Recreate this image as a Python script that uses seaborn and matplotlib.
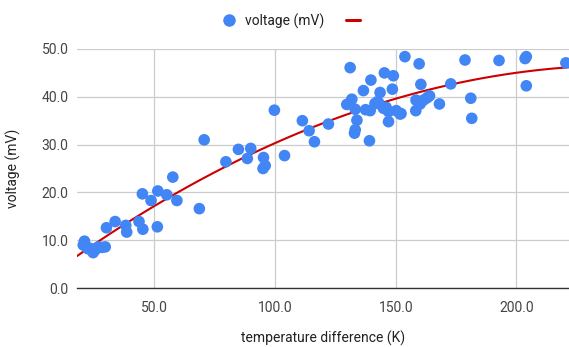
import matplotlib
matplotlib.use("Agg")
import matplotlib.pyplot as plt
from matplotlib.lines import Line2D
import seaborn as sns
import pandas as pd

# values
temp_diff = [21.0, 20.5, 21.8, 22.5, 23.3, 24.6, 25.5, 26.8, 28.2, 29.6,
             30.1, 33.7, 38.1, 38.5, 43.6, 45.2, 51.2,
             45.0, 51.4, 48.6, 55.1, 59.3, 57.6, 68.6,
             79.6, 70.6, 84.8, 89.9, 88.5, 95.2, 95.0, 95.9, 99.7, 103.9,
             111.3, 114.1, 116.3, 122.1,
             131.1, 129.7, 131.8, 133.2, 133.9, 133.2, 132.9, 139.1, 136.6, 139.7,
             139.4, 141.4, 143.5, 145.3, 149.0, 148.6, 143.1, 144.9, 147.0, 147.0,
             150.2, 151.8, 153.8, 142.5, 146.0, 137.5,
             159.7, 160.4, 172.8, 178.7, 192.8, 203.6, 204.1, 204.1, 220.5, 181.1,
             181.5, 168.1, 152.2, 158.4, 158.3, 160.1, 161.5, 164.0, 163.0]
voltage = [9.8, 9.0, 8.6, 8.2, 8.3, 7.4, 8.0, 8.6, 8.5, 8.6,
           12.6, 13.9, 13.1, 11.7, 13.9, 12.3, 12.8,
           19.7, 20.3, 18.3, 19.5, 18.3, 23.2, 16.6,
           26.4, 31.0, 29.0, 29.2, 27.1, 27.3, 25.0, 25.6, 37.2, 27.7,
           35.0, 32.9, 30.6, 34.3,
           46.1, 38.4, 39.5, 37.4, 35.1, 33.1, 32.4, 30.8, 41.3, 43.5,
           37.1, 38.6, 40.9, 45.0, 44.4, 41.6, 38.6, 37.6, 36.9, 34.8,
           37.1, 36.4, 48.4, 39.0, 37.8, 37.3,
           46.9, 42.6, 42.7, 47.7, 47.6, 48.0, 48.4, 42.3, 47.1, 39.7,
           35.5, 38.5, 36.5, 39.3, 37.1, 38.5, 39.3, 40.2, 39.8]
x_ticks = [50, 100, 150, 200]
y_ticks = [0, 10, 20, 30, 40, 50]

df = pd.DataFrame({"temp": temp_diff, "volt": voltage})

sns.set_theme(style="white")
plt.rcParams["font.family"] = ["Roboto", "DejaVu Sans"]

blue = "#4285f4"
red = "#cc0000"
fs = 10

fig = plt.figure(figsize=(5.69, 3.47), dpi=100)
ax = fig.add_axes([77 / 569, 1 - 288 / 347, 1 - 77 / 569, 239 / 347])

ax.set_xlim(17.9, 221.8)
ax.set_ylim(0, 50)

#polynomial trendline (order 2) fitted to the points
sns.regplot(data=df, x="temp", y="volt", order=2, scatter=False, ci=None,
            truncate=False, color=red, line_kws={"linewidth": 1.5}, ax=ax)
sns.scatterplot(data=df, x="temp", y="volt", color=blue, s=70,
                edgecolor="none", ax=ax, zorder=3, clip_on=True)

ax.set_xlim(17.9, 221.8)
ax.set_ylim(0, 50)
ax.set_xticks(x_ticks)
ax.set_xticklabels([f"{v:.1f}" for v in x_ticks])
ax.set_yticks(y_ticks)
ax.set_yticklabels([f"{v:.1f}" for v in y_ticks])
ax.tick_params(axis="both", length=0, labelsize=fs, colors="#444444")
ax.tick_params(axis="x", pad=9)
ax.tick_params(axis="y", pad=6)

ax.grid(True, color="#cccccc", linewidth=0.9)
ax.set_axisbelow(True)
for side in ["top", "right", "left"]:
    ax.spines[side].set_visible(False)
ax.spines["bottom"].set_color("#333333")
ax.spines["bottom"].set_linewidth(1.0)
ax.spines["bottom"].set_zorder(4)

ax.set_xlabel("temperature difference (K)", fontsize=fs, color="#222222")
ax.set_ylabel("voltage (mV)", fontsize=fs, color="#222222")
ax.xaxis.set_label_coords(0.5, -0.18)
ax.yaxis.set_label_coords(-0.114, 0.5)

handles = [Line2D([], [], marker="o", linestyle="none", markersize=9,
                  markerfacecolor=blue, markeredgecolor="none"),
           Line2D([], [], color=red, linewidth=2.2)]
fig.legend(handles, ["voltage (mV)", ""], loc="center", ncol=2,
           bbox_to_anchor=(0.5 + 11 / 569, 1 - 21 / 347), frameon=False,
           fontsize=fs, handlelength=1.0, handletextpad=0.6,
           columnspacing=1.6, labelcolor="#222222")

fig.savefig("out.png", dpi=100)
